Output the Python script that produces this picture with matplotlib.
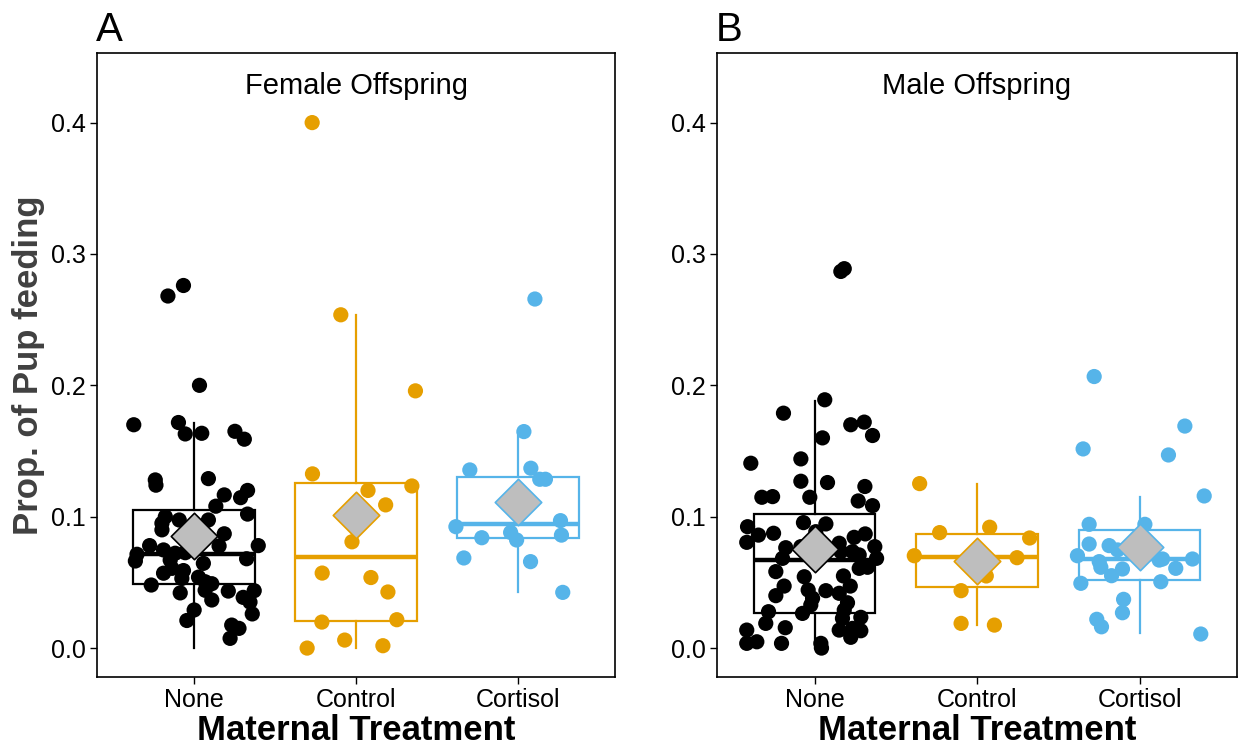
import matplotlib
matplotlib.use("Agg")
import matplotlib.pyplot as plt

plt.rcParams["font.family"] = ["Liberation Sans", "DejaVu Sans"]

groups = ["None", "Control", "Cortisol"]
colors = ["#000000", "#E69F00", "#56B4E9"]

# Female offspring: proportion of pup feeding, with jitter offsets
fem_none_y = [0.276, 0.268, 0.200, 0.170, 0.1717, 0.163, 0.1635, 0.165, 0.159, 0.128, 0.124,
              0.129, 0.1166, 0.120, 0.1145, 0.108, 0.102, 0.100, 0.095, 0.0975, 0.0975, 0.090,
              0.087, 0.078, 0.078, 0.0777, 0.0714, 0.0663, 0.0747, 0.0722, 0.0726, 0.067, 0.068,
              0.0645, 0.0607, 0.059, 0.057, 0.053, 0.054, 0.0505, 0.049, 0.048, 0.044, 0.0434,
              0.0437, 0.042, 0.0366, 0.0386, 0.035, 0.026, 0.029, 0.021, 0.0175, 0.015, 0.0074]
fem_none_dx = [-0.066, -0.162, 0.033, -0.373, -0.097, -0.055, 0.047, 0.252, 0.31, -0.24, -0.236,
               0.088, 0.186, 0.33, 0.287, 0.134, 0.33, -0.178, -0.199, -0.092, 0.088, -0.199,
               0.186, 0.396, -0.275, 0.154, -0.353, -0.363, -0.189, -0.117, -0.055, -0.148, 0.324,
               0.057, -0.137, -0.066, -0.189, -0.076, 0.027, 0.068, 0.109, -0.265, 0.068, 0.211,
               0.371, -0.086, 0.109, 0.303, 0.345, 0.359, 0.0, -0.045, 0.232, 0.277, 0.222]
fem_ctrl_y = [0.400, 0.2537, 0.1958, 0.1326, 0.120, 0.109, 0.1234, 0.0809, 0.0571, 0.0537,
              0.0427, 0.0198, 0.0216, 0.0061, 0.0018, 0.0]
fem_ctrl_dx = [-0.271, -0.094, 0.367, -0.269, 0.074, 0.183, 0.345, -0.025, -0.209, 0.092,
               0.197, -0.211, 0.252, -0.070, 0.166, -0.302]
fem_cort_y = [0.2657, 0.1648, 0.1356, 0.1369, 0.1285, 0.1285, 0.0924, 0.097, 0.084, 0.088,
              0.0823, 0.086, 0.0686, 0.0658, 0.0424]
fem_cort_dx = [0.105, 0.037, -0.297, 0.080, 0.135, 0.170, -0.383, 0.263, -0.223, -0.045,
               -0.008, 0.269, -0.334, 0.078, 0.277]

# Male offspring
male_none_y = [0.2867, 0.2888, 0.189, 0.1788, 0.170, 0.172, 0.1618, 0.160, 0.1407, 0.144,
               0.127, 0.126, 0.1148, 0.1153, 0.1148, 0.123, 0.112, 0.1084, 0.0955, 0.0945,
               0.0886, 0.0924, 0.086, 0.0874, 0.0805, 0.0869, 0.0843, 0.0798, 0.0772, 0.0764,
               0.0772, 0.0734, 0.0734, 0.0683, 0.0709, 0.0683, 0.0607, 0.0615, 0.0582, 0.0543,
               0.0549, 0.0472, 0.0472, 0.0399, 0.0442, 0.0437, 0.0379, 0.0417, 0.0328, 0.0345,
               0.0277, 0.0264, 0.029, 0.0226, 0.0234, 0.0188, 0.0155, 0.0137, 0.015, 0.0132,
               0.0082, 0.0137, 0.0036, 0.0048, 0.0036, 0.0036, 0.0]
male_none_dx = [0.162, 0.183, 0.063, -0.191, 0.223, 0.306, 0.357, 0.049, -0.392, -0.084,
                -0.084, 0.08, -0.324, -0.258, -0.029, 0.31, 0.269, 0.357, -0.068, 0.07,
                0.008, -0.412, -0.345, -0.252, -0.417, 0.312, 0.244, 0.152, 0.371, -0.177,
                -0.084, 0.162, 0.234, -0.197, 0.275, 0.382, 0.275, 0.326, -0.238, -0.063,
                0.178, 0.22, -0.187, -0.238, -0.039, 0.07, -0.012, 0.152, -0.023, 0.203,
                -0.283, -0.074, 0.183, 0.172, 0.285, -0.3, -0.18, 0.152, 0.234, 0.285,
                0.223, -0.417, -0.417, -0.355, -0.203, 0.039, 0.043]
male_ctrl_y = [0.1252, 0.092, 0.0879, 0.0838, 0.0703, 0.0688, 0.0549, 0.0437, 0.0188, 0.0175]
male_ctrl_dx = [-0.353, 0.078, -0.23, 0.324, -0.386, 0.246, 0.057, -0.098, -0.098, 0.107]
male_cort_y = [0.2067, 0.169, 0.1516, 0.147, 0.1158, 0.0942, 0.0942, 0.0792, 0.078, 0.0747,
               0.0703, 0.0658, 0.0615, 0.0602, 0.0551, 0.067, 0.0678, 0.0678, 0.0607, 0.0493,
               0.0505, 0.0371, 0.0269, 0.0219, 0.0162, 0.0107]
male_cort_dx = [-0.279, 0.279, -0.347, 0.178, 0.398, -0.31, 0.033, -0.31, -0.187, -0.135,
                -0.382, -0.248, -0.238, -0.105, -0.172, 0.121, 0.142, 0.326, 0.223, -0.361,
                0.131, -0.098, -0.105, -0.263, -0.234, 0.377]

# box summaries (whisker low, q1, median, q3, whisker high) and group means
fem_whislo = [0.0, 0.0, 0.0427]
fem_q1 = [0.049, 0.0206, 0.0838]
fem_med = [0.0716, 0.0693, 0.0945]
fem_q3 = [0.105, 0.1257, 0.130]
fem_whishi = [0.171, 0.2535, 0.164]
fem_mean = [0.085, 0.101, 0.111]

male_whislo = [0.0, 0.0175, 0.0114]
male_q1 = [0.0267, 0.0465, 0.052]
male_med = [0.067, 0.0693, 0.068]
male_q3 = [0.102, 0.0869, 0.090]
male_whishi = [0.188, 0.125, 0.115]
male_mean = [0.0754, 0.066, 0.077]

panels = [
    dict(tag="A", title="Female Offspring",
         ys=[fem_none_y, fem_ctrl_y, fem_cort_y], dxs=[fem_none_dx, fem_ctrl_dx, fem_cort_dx],
         lo=fem_whislo, q1=fem_q1, med=fem_med, q3=fem_q3, hi=fem_whishi, mean=fem_mean),
    dict(tag="B", title="Male Offspring",
         ys=[male_none_y, male_ctrl_y, male_cort_y], dxs=[male_none_dx, male_ctrl_dx, male_cort_dx],
         lo=male_whislo, q1=male_q1, med=male_med, q3=male_q3, hi=male_whishi, mean=male_mean),
]

fig = plt.figure(figsize=(12.39, 7.45), dpi=100)
axes = [fig.add_axes([0.0783, 0.0913, 0.4181, 0.8376]),
        fig.add_axes([0.5787, 0.0913, 0.4197, 0.8376])]

for ax, p in zip(axes, panels):
    for i, col in enumerate(colors):
        st = dict(whislo=p["lo"][i], q1=p["q1"][i], med=p["med"][i], q3=p["q3"][i],
                  whishi=p["hi"][i], fliers=[])
        ax.bxp([st], positions=[i], widths=0.75, showcaps=False, showfliers=False,
               patch_artist=True,
               boxprops=dict(facecolor="white", edgecolor=col, linewidth=1.6),
               whiskerprops=dict(color=col, linewidth=1.6),
               medianprops=dict(color=col, linewidth=3.2))
        xs = [i + d for d in p["dxs"][i]]
        ax.scatter(xs, p["ys"][i], s=120, color=col, edgecolors="none", zorder=3)
        ax.scatter([i], [p["mean"][i]], marker="D", s=560, facecolor="#BEBEBE",
                   edgecolor=col, linewidth=1.2, zorder=4)

    ax.set_xlim(-0.6, 2.6)
    ax.set_ylim(-0.022, 0.453)
    ax.set_xticks(range(3))
    ax.set_xticklabels(groups, fontsize=18)
    ax.set_yticks([0.0, 0.1, 0.2, 0.3, 0.4])
    ax.set_yticklabels(["0.0", "0.1", "0.2", "0.3", "0.4"], fontsize=18)
    ax.tick_params(direction="out", length=5, width=1, colors="black", pad=3)
    for s in ax.spines.values():
        s.set_linewidth(1.2)
    # axis title placed by baseline so it sits just under the tick labels
    ax.text(0.5, -0.101, "Maternal Treatment", transform=ax.transAxes, ha="center",
            va="baseline", fontsize=25, fontweight="bold")
    ax.text(0.5, 0.934, p["title"], transform=ax.transAxes, ha="center", va="baseline",
            fontsize=21)
    ax.text(-0.002, 1.019, p["tag"], transform=ax.transAxes, ha="left", va="baseline",
            fontsize=29)

axes[0].set_ylabel("Prop. of Pup feeding", fontsize=25, fontweight="bold", color="#404040",
                   labelpad=4)

fig.savefig("out.png", dpi=100)
